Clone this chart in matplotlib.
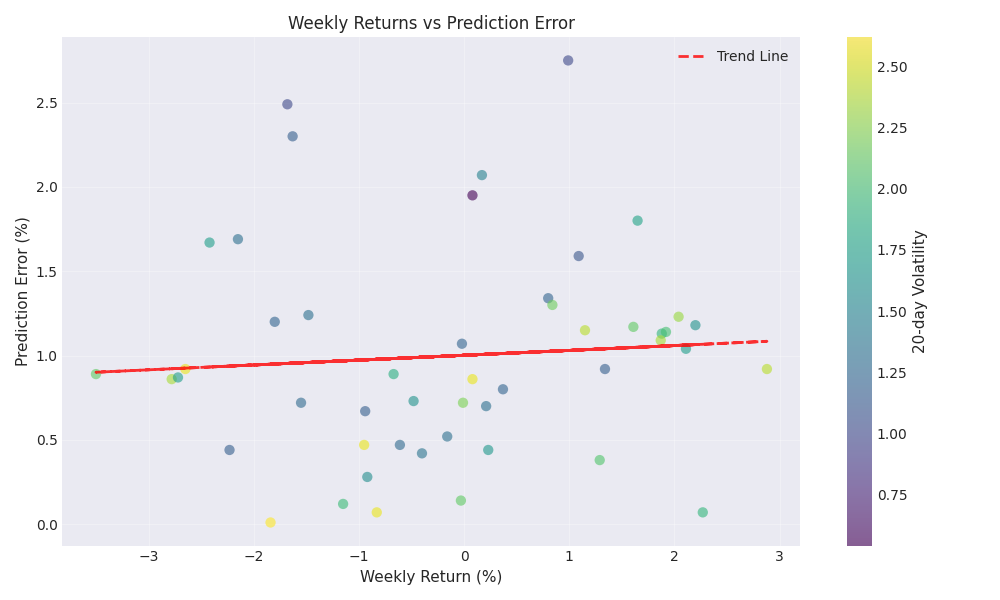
import numpy as np
import matplotlib
matplotlib.use("Agg")
import matplotlib.pyplot as plt

plt.style.use("seaborn-v0_8-darkgrid")
plt.rcParams["font.family"] = ["DejaVu Sans"]

# weekly return (%), prediction error (%), 20-day volatility
weekly_return = [0.99, -1.68, -1.63, 0.17, 0.08, -2.42, -2.15, 1.65, 1.09, 0.80,
                 0.84, -1.80, -1.48, 1.15, 1.61, 2.04, 2.20, 1.88, 1.92, 1.87,
                 2.11, -0.02, 1.34, 2.88, -3.50, -2.65, -2.78, -2.72, -0.67, 0.08,
                 0.37, -1.55, -0.48, -0.01, 0.21, -0.94, -2.23, -0.95, -0.61, -0.40,
                 -0.16, 0.23, -0.92, 1.29, -1.15, -0.03, -0.83, -1.84, 2.27]
pred_error = [2.75, 2.49, 2.30, 2.07, 1.95, 1.67, 1.69, 1.80, 1.59, 1.34,
              1.30, 1.20, 1.24, 1.15, 1.17, 1.23, 1.18, 1.13, 1.14, 1.09,
              1.04, 1.07, 0.92, 0.92, 0.89, 0.92, 0.86, 0.87, 0.89, 0.86,
              0.80, 0.72, 0.73, 0.72, 0.70, 0.67, 0.44, 0.47, 0.47, 0.42,
              0.52, 0.44, 0.28, 0.38, 0.12, 0.14, 0.07, 0.01, 0.07]
volatility = [1.00, 1.00, 1.15, 1.45, 0.54, 1.70, 1.30, 1.75, 1.10, 1.20,
              2.15, 1.20, 1.30, 2.40, 2.10, 2.30, 1.60, 1.90, 2.00, 2.35,
              1.70, 1.20, 1.15, 2.40, 2.10, 2.55, 2.35, 1.70, 1.85, 2.55,
              1.20, 1.25, 1.60, 2.20, 1.30, 1.15, 1.15, 2.55, 1.25, 1.35,
              1.30, 1.65, 1.55, 2.05, 1.95, 2.10, 2.55, 2.62, 1.90]

x = np.array(weekly_return)
y = np.array(pred_error)

fig, ax = plt.subplots(figsize=(10, 6), dpi=100)
sc = ax.scatter(x, y, c=volatility, cmap="viridis", alpha=0.6, s=55,
                edgecolors="none")
cbar = plt.colorbar(sc, ax=ax)
cbar.set_label("20-day Volatility", fontsize=11)
cbar.outline.set_visible(False)

# trend line
z = np.polyfit(x, y, 1)
p = np.poly1d(z)
ax.plot(x, p(x), "r--", alpha=0.8, linewidth=2, label="Trend Line")

ax.set_xlabel("Weekly Return (%)", fontsize=11)
ax.set_ylabel("Prediction Error (%)", fontsize=11)
ax.set_title("Weekly Returns vs Prediction Error", fontsize=12)
ax.legend(loc="upper right")
ax.grid(True, alpha=0.3)

plt.tight_layout()
plt.savefig("out.png", dpi=100)
